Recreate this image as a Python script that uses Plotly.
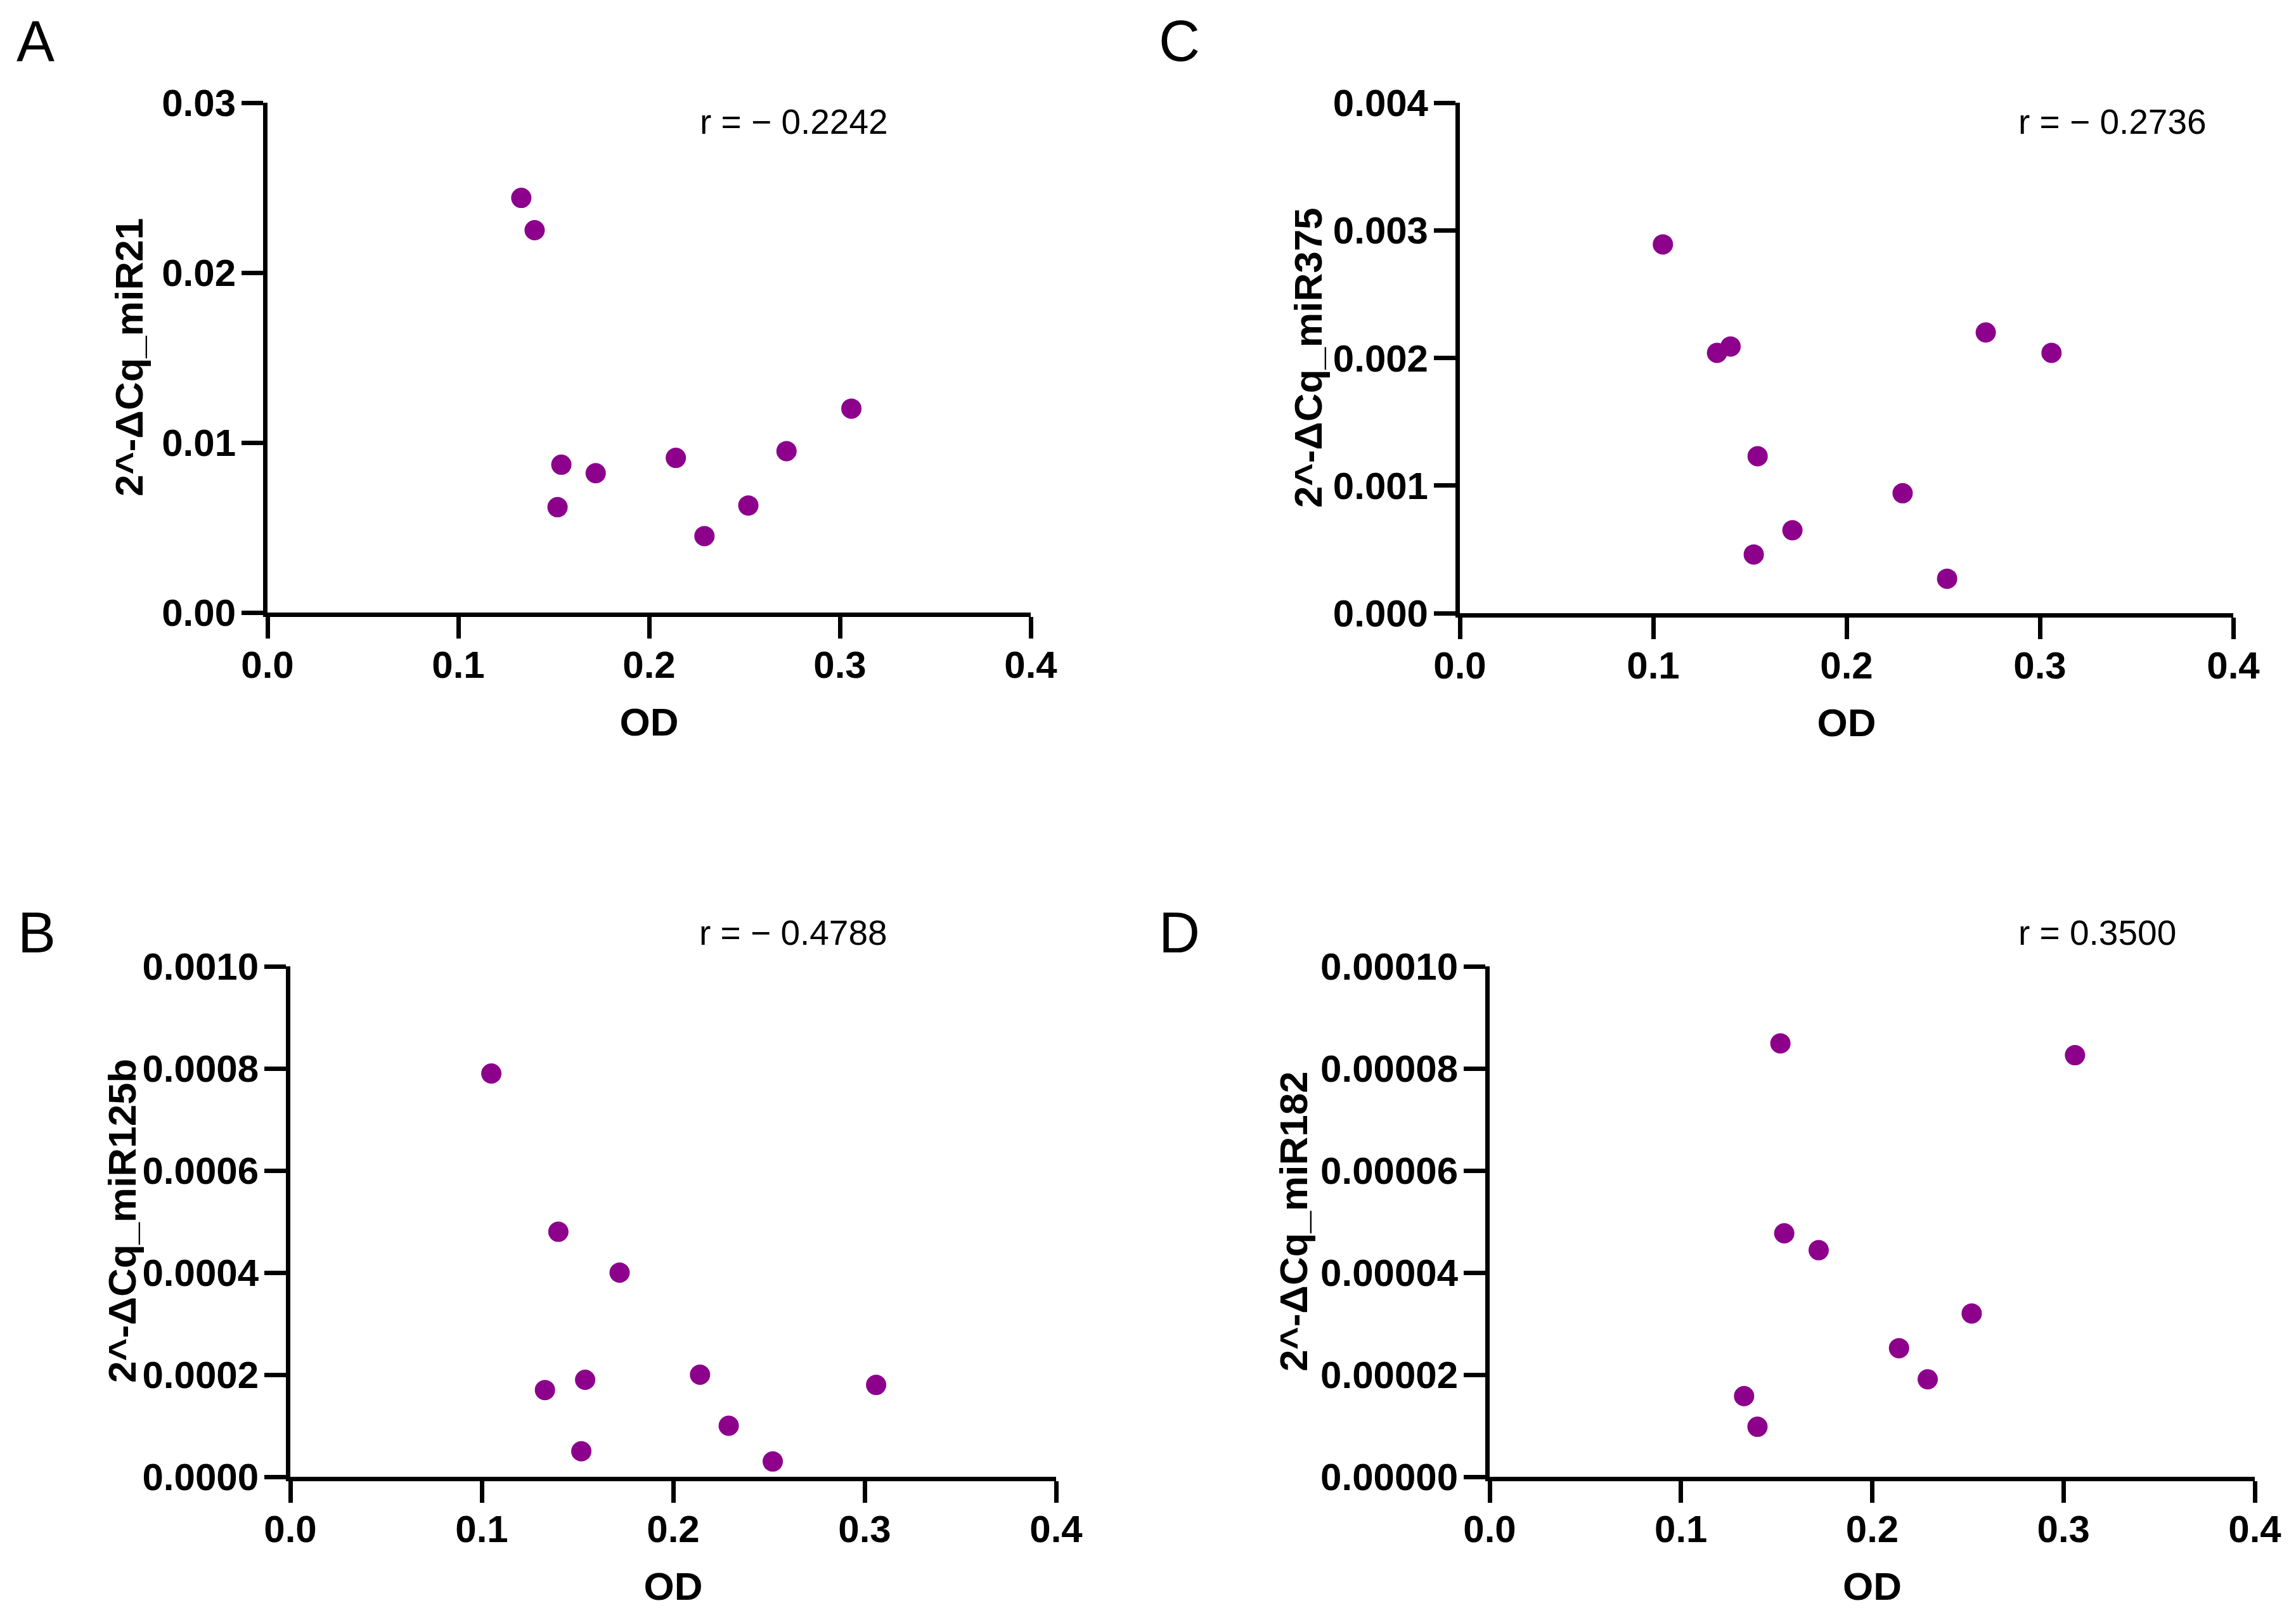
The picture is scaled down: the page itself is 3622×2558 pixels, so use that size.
import plotly.graph_objects as go

# OD values and 2^-dCq values
od_mir21 = [0.133, 0.140, 0.152, 0.154, 0.172, 0.214, 0.229, 0.252, 0.272, 0.306]
mir21 = [0.0244, 0.0225, 0.0062, 0.0087, 0.0082, 0.0091, 0.0045, 0.0063, 0.0095, 0.0120]

od_mir375 = [0.105, 0.133, 0.140, 0.152, 0.154, 0.172, 0.229, 0.252, 0.272, 0.306]
mir375 = [0.00289, 0.00204, 0.00209, 0.00046, 0.00123, 0.00065, 0.00094, 0.00027, 0.00220, 0.00204]

od_mir125b = [0.105, 0.133, 0.140, 0.152, 0.154, 0.172, 0.214, 0.229, 0.252, 0.306]
mir125b = [0.00079, 0.00017, 0.00048, 0.00005, 0.00019, 0.00040, 0.00020, 0.00010, 0.00003, 0.00018]

od_mir182 = [0.133, 0.140, 0.152, 0.154, 0.172, 0.214, 0.229, 0.252, 0.306]
mir182 = [0.0000158, 0.0000098, 0.0000849, 0.0000477, 0.0000444, 0.0000252, 0.0000191, 0.0000320, 0.0000826]

panel_letters = ["A", "C", "B", "D"]
r_labels = ["r = − 0.2242", "r = − 0.2736", "r = − 0.4788", "r = 0.3500"]
y_titles = ["2^-ΔCq_miR21", "2^-ΔCq_miR375", "2^-ΔCq_miR125b", "2^-ΔCq_miR182"]
y_max = [0.03, 0.004, 0.001, 0.0001]
y_step = [0.01, 0.001, 0.0002, 0.00002]
y_fmt = [".2f", ".3f", ".4f", ".5f"]

W, H = 3622, 2558
OFF = 8  # page margin of the html body
FONT = "Liberation Sans, Arial, sans-serif"
PURPLE = "#8c008c"

# pixel boxes of the four plot areas (left, right, top, bottom)
boxes = [(422, 1626, 162, 966), (2303, 3523, 162, 967),
         (458, 1666, 1524, 2329), (2350, 3557, 1524, 2329)]
letter_pos = [(24, 65), (1826, 65), (26, 1471), (1826, 1471)]
r_pos = [(1102, 192), (3182, 192), (1101, 1471), (3182, 1471)]
ytitle_pos = [(203, 564), (2063, 564), (192, 1926), (2040, 1926)]


def px(x):
    return (x - OFF) / W


def py(y):
    return 1 - (y - OFF) / H


xs = [od_mir21, od_mir375, od_mir125b, od_mir182]
ys = [mir21, mir375, mir125b, mir182]

fig = go.Figure()
annotations = []

for i in range(4):
    n = "" if i == 0 else str(i + 1)
    fig.add_trace(go.Scatter(x=xs[i], y=ys[i], mode="markers",
                             xaxis="x" + n, yaxis="y" + n, showlegend=False,
                             marker=dict(size=32, color=PURPLE, line=dict(width=0))))
    l, r, t, b = boxes[i]
    axis_common = dict(showgrid=False, zeroline=False, showline=True, linecolor="black",
                       linewidth=7, ticks="outside", ticklen=34, tickwidth=7, tickcolor="black",
                       automargin=False,
                       tickfont=dict(family=FONT, size=60, color="black", weight="bold"))
    fig.update_layout({
        "xaxis" + n: dict(axis_common, domain=[px(l), px(r)], anchor="y" + n,
                          range=[0, 0.4], dtick=0.1, tick0=0, tickformat=".1f",
                          ticklabelstandoff=-10,
                          title=dict(text="OD", standoff=38,
                                     font=dict(family=FONT, size=62, color="black", weight="bold"))),
        "yaxis" + n: dict(axis_common, domain=[py(b), py(t)], anchor="x" + n,
                          range=[0, y_max[i]], dtick=y_step[i], tick0=0, tickformat=y_fmt[i],
                          ticklabelstandoff=-3),
    })
    annotations.append(dict(text=y_titles[i], xref="paper", yref="paper",
                            x=px(ytitle_pos[i][0]), y=py(ytitle_pos[i][1]),
                            xanchor="center", yanchor="middle", textangle=-90, showarrow=False,
                            font=dict(family=FONT, size=62, color="black", weight="bold")))
    annotations.append(dict(text=panel_letters[i], xref="paper", yref="paper",
                            x=px(letter_pos[i][0]), y=py(letter_pos[i][1]),
                            xanchor="left", yanchor="middle", showarrow=False,
                            font=dict(family=FONT, size=90, color="black")))
    annotations.append(dict(text=r_labels[i], xref="paper", yref="paper",
                            x=px(r_pos[i][0]), y=py(r_pos[i][1]),
                            xanchor="left", yanchor="middle", showarrow=False,
                            font=dict(family=FONT, size=55, color="black")))

fig.update_layout(width=W, height=H, margin=dict(l=0, r=0, t=0, b=0),
                  paper_bgcolor="white", plot_bgcolor="white",
                  annotations=annotations)

fig.write_html("out.html")
